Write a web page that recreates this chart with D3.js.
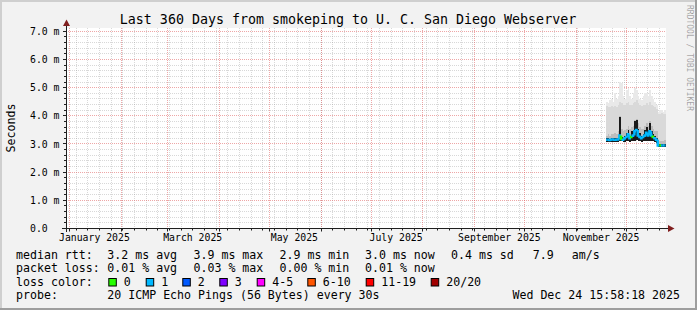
<!DOCTYPE html>
<html>
<head>
<meta charset="utf-8">
<script src="https://cdn.jsdelivr.net/npm/d3@7"></script>
<style>
  body { margin: 0; background: #f2f2f2; }
  svg { display: block; }
  text { font-family: "DejaVu Sans Mono", monospace; fill: #000; }
</style>
</head>
<body>
<svg id="chart" width="697" height="310"></svg>
<script>
// daily samples (smokeping, 360 day view)
const days = [
  "2025-11-19", "2025-11-20", "2025-11-21", "2025-11-22", "2025-11-23", "2025-11-24",
  "2025-11-25", "2025-11-26", "2025-11-27", "2025-11-28", "2025-11-29", "2025-11-30",
  "2025-12-01", "2025-12-02", "2025-12-03", "2025-12-04", "2025-12-05", "2025-12-06",
  "2025-12-07", "2025-12-08", "2025-12-09", "2025-12-10", "2025-12-11", "2025-12-12",
  "2025-12-13", "2025-12-14", "2025-12-15", "2025-12-16", "2025-12-17", "2025-12-18",
  "2025-12-19", "2025-12-20", "2025-12-21", "2025-12-22", "2025-12-23", "2025-12-24",
];
// milliseconds
const median = [3.15, 3.15, 3.14, 3.15, 3.16, 3.15, 3.15, 3.16, 3.30, 3.18, 3.15, 3.20,
  3.25, 3.35, 3.20, 3.25, 3.30, 3.45, 3.50, 3.30, 3.25, 3.20, 3.25, 3.30,
  3.40, 3.30, 3.45, 3.30, 3.25, 3.20, 3.15, 2.95, 2.95, 2.95, 2.95, 2.95];
const smokeLo = [3.08, 3.08, 3.08, 3.08, 3.08, 3.08, 3.08, 3.08, 3.10, 3.10, 3.08, 3.08,
  3.10, 3.10, 3.08, 3.10, 3.10, 3.10, 3.15, 3.10, 3.10, 3.08, 3.10, 3.10,
  3.10, 3.10, 3.12, 3.10, 3.10, 3.08, 3.05, 2.88, 2.88, 2.88, 2.88, 2.88];
const smokeDark = [3.20, 3.20, 3.19, 3.20, 3.21, 3.20, 3.20, 3.21, 3.95, 3.25, 3.20, 3.30,
  3.40, 3.50, 3.28, 3.45, 3.50, 3.80, 3.85, 3.55, 3.40, 3.30, 3.35, 3.50,
  3.60, 3.50, 3.75, 3.45, 3.35, 3.30, 3.20, 3.00, 3.00, 3.00, 3.00, 3.00];
const smokeMid = [3.30, 3.35, 3.30, 3.35, 3.35, 3.40, 3.35, 3.45, 4.00, 3.55, 3.45, 3.50,
  3.55, 3.65, 3.55, 3.60, 3.65, 3.85, 3.90, 3.75, 3.60, 3.55, 3.55, 3.65,
  3.75, 3.65, 3.80, 3.65, 3.55, 3.45, 3.45, 3.15, 3.10, 3.10, 3.10, 3.15];
const smokeHigh = [4.35, 4.30, 4.30, 4.35, 4.30, 4.35, 4.30, 4.40, 4.50, 4.45, 4.40, 4.40,
  4.45, 4.50, 4.40, 4.40, 4.45, 4.50, 4.55, 4.45, 4.40, 4.35, 4.40, 4.40,
  4.45, 4.40, 4.50, 4.40, 4.35, 4.30, 4.25, 4.05, 4.05, 4.10, 4.05, 4.05];
const smokeMax = [4.50, 4.45, 4.55, 4.60, 4.50, 4.80, 4.60, 4.70, 5.20, 5.15, 4.70, 4.60,
  4.90, 5.00, 4.70, 4.60, 4.80, 5.00, 4.90, 4.70, 4.60, 4.55, 4.70, 4.80,
  4.80, 4.70, 4.90, 4.70, 4.60, 4.50, 4.40, 4.15, 4.20, 4.20, 4.15, 4.20];
// index into lossColors
const lossIdx = [1, 1, 1, 1, 1, 1, 1, 1, 1, 0, 1, 1, 1, 1, 1, 0, 1, 1,
  1, 1, 1, 1, 1, 1, 1, 1, 1, 1, 0, 1, 1, 1, 0, 1, 1, 1];

const lossLabels = ["0", "1", "2", "3", "4-5", "6-10", "11-19", "20/20"];
const lossColors = ["#26ff00", "#00b8ff", "#0059ff", "#7e00ff", "#ff00ff", "#ff5500", "#ff0000", "#a10000"];

const yTicks = [0, 1, 2, 3, 4, 5, 6, 7];
const yTickLabels = ["0.0", "1.0 m", "2.0 m", "3.0 m", "4.0 m", "5.0 m", "6.0 m", "7.0 m"];
const monthLabels = ["January 2025", "March 2025", "May 2025", "July 2025", "September 2025", "November 2025"];
const monthLabelStarts = ["2025-01-01", "2025-03-01", "2025-05-01", "2025-07-01", "2025-09-01", "2025-11-01"];

const statRows = [
  ["median rtt:", "3.2 ms avg", "3.9 ms max", "2.9 ms min", "3.0 ms now", "0.4 ms sd", "7.9", "am/s"],
  ["packet loss:", "0.01 % avg", "0.03 % max", "0.00 % min", "0.01 % now"],
];
const title = "Last 360 Days from smokeping to U. C. San Diego Webserver";
const probeText = "20 ICMP Echo Pings (56 Bytes) every 30s";
const stamp = "Wed Dec 24 15:58:18 2025";

const parse = d3.timeParse("%Y-%m-%d");
const svg = d3.select("#chart");
const W = 697, H = 310;
const m = { left: 66, right: 666, top: 28, bottom: 228 };

const tStart = new Date(2024, 11, 29, 15, 58, 18);
const tEnd = new Date(2025, 11, 24, 15, 58, 18);
const x = d3.scaleTime().domain([tStart, tEnd]).range([65.5, 665.5]);
const y = d3.scaleLinear().domain([0, 7.1]).range([228.5, 28.5]);
const crisp = (v) => Math.round(v - 0.5) + 0.5;

// background + 3d frame
svg.append("rect").attr("width", W).attr("height", H).attr("fill", "#f2f2f2");
svg.append("rect").attr("x", 0).attr("y", 0).attr("width", W).attr("height", 2).attr("fill", "#cfcfcf");
svg.append("rect").attr("x", 0).attr("y", 0).attr("width", 2).attr("height", H).attr("fill", "#cfcfcf");
svg.append("rect").attr("x", 0).attr("y", H - 2).attr("width", W).attr("height", 2).attr("fill", "#9e9e9e");
svg.append("rect").attr("x", W - 2).attr("y", 0).attr("width", 2).attr("height", H).attr("fill", "#9e9e9e");

svg.append("rect")
  .attr("x", m.left).attr("y", m.top)
  .attr("width", m.right - m.left).attr("height", m.bottom - m.top)
  .attr("fill", "#fff");

// grid
const grid = svg.append("g");
const minorY = d3.range(1, 36).map((i) => i / 5).filter((v) => Math.abs(v - Math.round(v)) > 1e-6);
grid.selectAll(".gy").data(minorY).join("line")
  .attr("x1", m.left).attr("x2", m.right)
  .attr("y1", (d) => crisp(y(d))).attr("y2", (d) => crisp(y(d)))
  .attr("stroke", "rgba(143,143,143,0.35)").attr("stroke-dasharray", "1,1");
const weeks = d3.timeSunday.range(tStart, tEnd);
grid.selectAll(".gx").data(weeks).join("line")
  .attr("x1", (d) => crisp(x(d))).attr("x2", (d) => crisp(x(d)))
  .attr("y1", m.top).attr("y2", m.bottom)
  .attr("stroke", "rgba(143,143,143,0.35)").attr("stroke-dasharray", "1,1");
grid.selectAll(".my").data(yTicks.slice(1)).join("line")
  .attr("x1", m.left).attr("x2", m.right)
  .attr("y1", (d) => crisp(y(d))).attr("y2", (d) => crisp(y(d)))
  .attr("stroke", "rgba(222,79,79,0.5)").attr("stroke-dasharray", "1,1");
const months = d3.timeMonth.range(tStart, tEnd);
grid.selectAll(".mx").data(months).join("line")
  .attr("x1", (d) => crisp(x(d))).attr("x2", (d) => crisp(x(d)))
  .attr("y1", m.top).attr("y2", m.bottom)
  .attr("stroke", "rgba(222,79,79,0.5)").attr("stroke-dasharray", "1,1");

// smoke
const rows = days.map((d, i) => ({
  t: parse(d), median: median[i], lo: smokeLo[i], dark: smokeDark[i],
  mid: smokeMid[i], high: smokeHigh[i], max: smokeMax[i], loss: lossIdx[i],
}));
const x0 = (d) => x(d.t);
const x1 = (d) => Math.min(x(d3.timeDay.offset(d.t, 1)), x(tEnd));
const bands = [
  { lo: "lo", hi: "max", color: "#e9e9e9" },
  { lo: "lo", hi: "high", color: "#d9d9d9" },
  { lo: "lo", hi: "mid", color: "#bdbdbd" },
  { lo: "lo", hi: "dark", color: "#1a1a1a" },
];
bands.forEach((b) => {
  svg.append("g").selectAll("rect").data(rows).join("rect")
    .attr("x", x0).attr("width", (d) => x1(d) - x0(d))
    .attr("y", (d) => y(d[b.hi])).attr("height", (d) => y(d[b.lo]) - y(d[b.hi]))
    .attr("fill", b.color).attr("shape-rendering", "crispEdges");
});

// median line coloured by loss
const med = svg.append("g");
rows.forEach((d, i) => {
  const prev = i > 0 ? rows[i - 1].median : d.median;
  med.append("path")
    .attr("d", `M${x0(d)},${y(prev)}L${x0(d)},${y(d.median)}L${x1(d)},${y(d.median)}`)
    .attr("fill", "none")
    .attr("stroke", lossColors[d.loss])
    .attr("stroke-width", 2.5);
});

// axes + ticks
const axisCol = "#1f1f1f";
svg.append("g").selectAll("line").data(d3.range(0, 36).map((i) => i / 5)).join("line")
  .attr("x1", (d, i) => (i % 5 === 0 ? 63 : 64)).attr("x2", 66)
  .attr("y1", (d) => crisp(y(d))).attr("y2", (d) => crisp(y(d)))
  .attr("stroke", axisCol);
svg.append("g").selectAll("line").data(weeks).join("line")
  .attr("x1", (d) => crisp(x(d))).attr("x2", (d) => crisp(x(d)))
  .attr("y1", 229).attr("y2", 230.5).attr("stroke", axisCol);
svg.append("g").selectAll("line").data(months).join("line")
  .attr("x1", (d) => crisp(x(d))).attr("x2", (d) => crisp(x(d)))
  .attr("y1", 229).attr("y2", 231.5).attr("stroke", axisCol);
svg.append("line").attr("x1", 66.5).attr("x2", 66.5).attr("y1", 232).attr("y2", 25)
  .attr("stroke", axisCol);
svg.append("line").attr("x1", 62).attr("x2", 669).attr("y1", 228.5).attr("y2", 228.5)
  .attr("stroke", axisCol);
svg.append("path").attr("d", "M63,26L70,26L66.5,19.5Z").attr("fill", "#801f1f");
svg.append("path").attr("d", "M668,225L668,232L674.5,228.5Z").attr("fill", "#801f1f");

// axis labels
svg.append("g").selectAll("text").data(yTicks).join("text")
  .attr("x", 30).attr("y", (d) => y(d) + 3.6)
  .attr("font-size", "9.8px")
  .text((d, i) => yTickLabels[i]);
svg.append("g").selectAll("text").data(monthLabelStarts).join("text")
  .attr("x", (d) => x(d3.timeDay.offset(parse(d), 15)))
  .attr("y", 240.5)
  .attr("text-anchor", "middle")
  .attr("font-size", "9.8px")
  .text((d, i) => monthLabels[i]);

svg.append("text")
  .attr("transform", "translate(14.5,128) rotate(-90)")
  .attr("text-anchor", "middle").attr("font-size", "11.6px")
  .text("Seconds");
svg.append("text")
  .attr("x", 348).attr("y", 23.7).attr("text-anchor", "middle")
  .attr("font-size", "13.3px").text(title);
svg.append("text")
  .attr("transform", "translate(686.5,5) rotate(90)")
  .attr("font-size", "8px").style("fill", "rgba(0,0,0,0.35)")
  .text("RRDTOOL / TOBI OETIKER");

// legend
const lg = svg.append("g").attr("font-size", "11.6px");
const base = [258.5, 272, 285.7, 299.3];
const statX = [16, 107.3, 193.5, 279.5, 365, 451, 532.7, 571.7];
statRows.forEach((row, r) => {
  row.forEach((s, j) => {
    lg.append("text").attr("x", statX[j]).attr("y", base[r]).attr("xml:space", "preserve").text(s);
  });
});
lg.append("text").attr("x", 16).attr("y", base[2]).text("loss color:");
const boxX = [108.3, 145.7, 182.3, 219.3, 256.7, 307.3, 365.7, 430.7];
lossLabels.forEach((l, i) => {
  lg.append("rect").attr("x", boxX[i] + 0.5).attr("y", 278.5).attr("width", 7.5).attr("height", 7.5)
    .attr("fill", lossColors[i]).attr("stroke", "#000");
  lg.append("text").attr("x", boxX[i] + 15.5).attr("y", base[2]).text(l);
});
lg.append("text").attr("x", 16).attr("y", base[3]).text("probe:");
lg.append("text").attr("x", 107.3).attr("y", base[3]).text(probeText);
lg.append("text").attr("x", 680).attr("y", base[3]).attr("text-anchor", "end").text(stamp);
</script>
</body>
</html>
